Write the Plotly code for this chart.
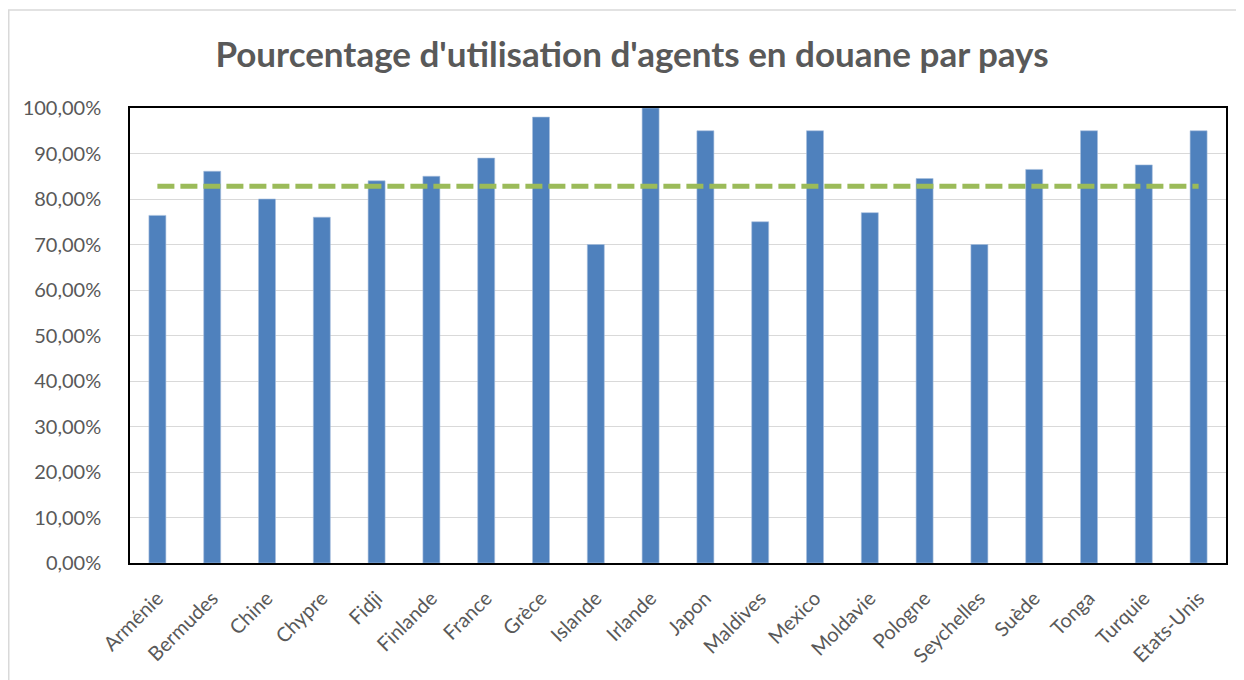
import plotly.graph_objects as go

pays = ["Arménie", "Bermudes", "Chine", "Chypre", "Fidji", "Finlande", "France", "Grèce",
        "Islande", "Irlande", "Japon", "Maldives", "Mexico", "Moldavie", "Pologne",
        "Seychelles", "Suède", "Tonga", "Turquie", "Etats-Unis"]
pourcentages = [0.764, 0.861, 0.80, 0.76, 0.84, 0.85, 0.89, 0.98,
                0.70, 1.00, 0.95, 0.75, 0.95, 0.77, 0.845,
                0.70, 0.865, 0.95, 0.875, 0.95]
moyenne = [0.828, 0.828, 0.828, 0.828, 0.828, 0.828, 0.828, 0.828, 0.828, 0.828,
           0.828, 0.828, 0.828, 0.828, 0.828, 0.828, 0.828, 0.828, 0.828, 0.828]
y_ticks = [0, 0.1, 0.2, 0.3, 0.4, 0.5, 0.6, 0.7, 0.8, 0.9, 1.0]

# page body has an 8px margin; compensate so the chart lands where the reference has it
W, H = 1236, 672
L, R, T, B = 122, 18, 99.5, 117
pw = W - L - R
ph = H - T - B

fig = go.Figure()
fig.add_trace(go.Bar(
    x=pays, y=pourcentages,
    marker=dict(color="#4F81BD", line=dict(color="#A7BFDE", width=0.6)),
    showlegend=False,
))
fig.add_trace(go.Scatter(
    x=pays, y=moyenne, mode="lines",
    line=dict(color="#9BBB59", width=5, dash="17px,6px"),
    showlegend=False,
))

fig.update_layout(
    width=W, height=H,
    margin=dict(l=L, r=R, t=T, b=B, autoexpand=False),
    paper_bgcolor="white", plot_bgcolor="white",
    separators=", ",
    bargap=0.69,
    font=dict(family="Lato, 'Open Sans', sans-serif", color="#595959", size=20),
    title=dict(
        text="<b>Pourcentage d'utilisation d'agents en douane par pays</b>",
        x=(632 - 8) / W, xref="container", xanchor="center",
        y=1 - 47 / H, yref="container", yanchor="middle",
        font=dict(family="Lato, 'Open Sans', sans-serif", size=35, color="#595959"),
    ),
    xaxis=dict(
        showline=True, linecolor="black", linewidth=1.5, mirror=True,
        tickangle=-45, ticks="", tickfont=dict(size=20, color="#595959"),
        showgrid=False, ticklabelstandoff=14, automargin=False,
    ),
    yaxis=dict(
        range=[0, 1], tickvals=y_ticks, tickformat=".2%",
        showline=True, linecolor="black", linewidth=1.5, mirror=True,
        showgrid=True, gridcolor="#D9D9D9", gridwidth=1.3,
        zeroline=False, ticks="", ticklabelstandoff=23, automargin=False,
        tickfont=dict(size=20, color="#595959"),
    ),
    shapes=[
        dict(type="line", xref="paper", yref="paper",
             x0=(0 - L) / pw, x1=(W + 10 - L) / pw,
             y0=(H - B - 1.5) / ph, y1=(H - B - 1.5) / ph,
             line=dict(color="#D9D9D9", width=1.5)),
        dict(type="line", xref="paper", yref="paper",
             x0=(0.75 - L) / pw, x1=(0.75 - L) / pw,
             y0=(H - B - 1.5) / ph, y1=(H - B - H - 10) / ph,
             line=dict(color="#D9D9D9", width=1.5)),
    ],
)

fig.write_html("out.html")
